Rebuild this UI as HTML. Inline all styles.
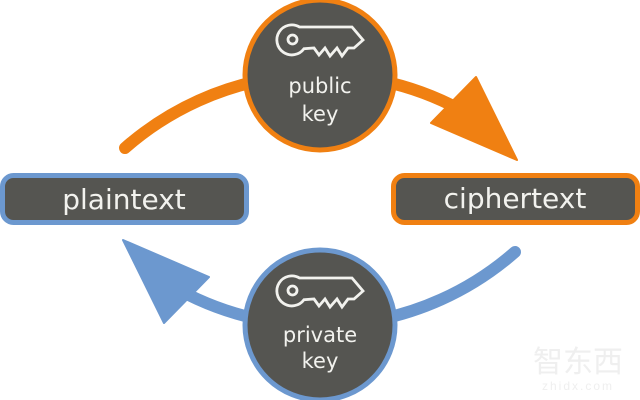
<!DOCTYPE html>
<html>
<head>
<meta charset="utf-8">
<style>
html,body{margin:0;padding:0;background:#ffffff;}
svg{display:block;}
</style>
</head>
<body>
<svg width="640" height="400" viewBox="0 0 640 400" xmlns="http://www.w3.org/2000/svg">
  <rect width="640" height="400" fill="#ffffff"/>

  <!-- watermark -->
  <g fill="#efefef" font-family="'Liberation Sans','Noto Sans CJK SC',sans-serif">
    <text x="578" y="372" font-size="30" text-anchor="middle">智东西</text>
    <text x="578" y="390" font-size="12" text-anchor="middle" letter-spacing="2">zhidx.com</text>
  </g>

  <!-- orange arc -->
  <g>
    <path d="M125,148 A296,296 0 0 1 461,110" fill="none" stroke="#f08012" stroke-width="12" stroke-linecap="round"/>
    <polygon points="476,77 517,160 431,123" fill="#f08012" stroke="#f08012" stroke-width="2" stroke-linejoin="round"/>
  </g>
  <!-- blue arc (point-symmetric) -->
  <g transform="rotate(180 320 200)">
    <path d="M125,148 A296,296 0 0 1 461,110" fill="none" stroke="#6c98cf" stroke-width="12" stroke-linecap="round"/>
    <polygon points="476,77 517,160 431,123" fill="#6c98cf" stroke="#6c98cf" stroke-width="2" stroke-linejoin="round"/>
  </g>

  <!-- boxes -->
  <rect x="2.5" y="175.5" width="244" height="47" rx="11" fill="#555551" stroke="#6c98cf" stroke-width="5"/>
  <rect x="393.5" y="175.5" width="244" height="47" rx="11" fill="#555551" stroke="#f08012" stroke-width="5"/>
  <g font-family="'DejaVu Sans',sans-serif" font-size="28" fill="#f2f2ee" text-anchor="middle">
    <text x="124" y="209">plaintext</text>
    <text x="515" y="208">ciphertext</text>
  </g>

  <!-- circles -->
  <circle cx="320" cy="75" r="75" fill="#555551" stroke="#f08012" stroke-width="5"/>
  <circle cx="320" cy="325" r="75" fill="#555551" stroke="#6c98cf" stroke-width="5"/>

  <!-- keys -->
  <g fill="none" stroke="#f2f2ee" stroke-width="2.8" stroke-linejoin="miter">
    <path d="M299.5,27 L352,27 L363,40 L354,48 L348,48 L342,56 L337,48 L330,56 L325,48 L319,55 L314,48 L304,48.7 A15,15 0 1 1 299.5,27 Z"/>
    <circle cx="292.5" cy="39.5" r="4.5"/>
  </g>
  <g transform="translate(0,251)" fill="none" stroke="#f2f2ee" stroke-width="2.8">
    <path d="M299.5,27 L352,27 L363,40 L354,48 L348,48 L342,56 L337,48 L330,56 L325,48 L319,55 L314,48 L304,48.7 A15,15 0 1 1 299.5,27 Z"/>
    <circle cx="292.5" cy="39.5" r="4.5"/>
  </g>

  <!-- circle labels -->
  <g font-family="'DejaVu Sans',sans-serif" font-size="21" fill="#f2f2ee" text-anchor="middle">
    <text x="320" y="93">public</text>
    <text x="320" y="121">key</text>
    <text x="320" y="342">private</text>
    <text x="320" y="368">key</text>
  </g>
</svg>
</body>
</html>
